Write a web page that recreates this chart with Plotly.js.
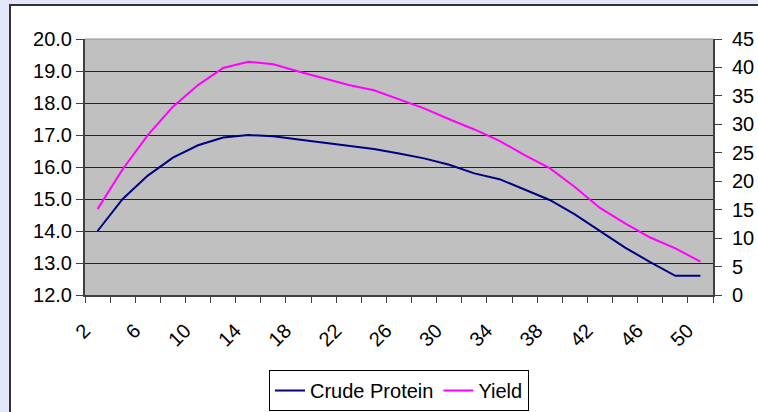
<!DOCTYPE html>
<html><head><meta charset="utf-8">
<script src="https://cdn.plot.ly/plotly-3.0.1.min.js"></script>
<style>
html,body{margin:0;padding:0;background:#E6E6FA;width:758px;height:412px;overflow:hidden;}
#frame{position:absolute;left:9px;top:4px;width:747px;height:406px;border-left:2px solid #333;border-top:2px solid #333;background:#fff;}
#chart{width:747px;height:406px;}
</style></head><body>
<div id="frame"><div id="chart"></div></div>
<script>
const categories = [2,4,6,8,10,12,14,16,18,20,22,24,26,28,30,32,34,36,38,40,42,44,46,48,50];
const crudeProtein = [14.0,15.0,15.73,16.29,16.68,16.92,17.0,16.96,16.86,16.76,16.66,16.56,16.42,16.27,16.07,15.8,15.62,15.3,14.97,14.52,14.0,13.48,13.03,12.6,12.6];
const yieldVals = [15.1,22.1,28.1,33.1,36.9,39.9,41.0,40.55,39.3,38.1,36.9,36.0,34.4,32.8,30.9,29.1,27.1,24.6,22.3,19.0,15.3,12.6,10.1,8.2,5.86];
const seriesNames = ["Crude Protein","Yield"];

const labelVals = categories.filter((c,i)=>i%2===0);
const boundaries = categories.map(c=>c-1).concat([categories[categories.length-1]+1]);
const font = {family:"Liberation Sans, Arial, sans-serif", size:20, color:"#000"};

const traces = [
  {x:categories, y:crudeProtein, name:seriesNames[0], type:"scatter", mode:"lines",
   line:{color:"#000080", width:2}, yaxis:"y"},
  {x:categories, y:yieldVals, name:seriesNames[1], type:"scatter", mode:"lines",
   line:{color:"#FF00FF", width:2}, yaxis:"y2"}
];

const layout = {
  width:747, height:406,
  margin:{l:74, r:45, t:33, b:117},
  paper_bgcolor:"#FFFFFF", plot_bgcolor:"#C0C0C0",
  font:font,
  showlegend:true,
  legend:{orientation:"h", xref:"paper", x:0.5, xanchor:"center", yref:"container", y:0.1034, yanchor:"top",
          bgcolor:"#FFFFFF", bordercolor:"#000", borderwidth:1, font:font},
  xaxis:{range:[boundaries[0], boundaries[boundaries.length-1]], tickvals:labelVals, automargin:false,
         ticktext:labelVals.map(String), ticks:"", tickangle:-45, ticklabelshift:-13, ticklabelstandoff:14,
         showgrid:false, zeroline:false, showline:true, linecolor:"#404040", linewidth:2,
         minor:{tickvals:boundaries, ticks:"outside", ticklen:6, tickcolor:"#404040", tickwidth:1, showgrid:false},
         tickfont:font},
  yaxis:{range:[12,20], dtick:1, tick0:12, tickformat:".1f", ticks:"outside", ticklen:7, automargin:false,
         tickcolor:"#404040", showline:true, linecolor:"#404040", linewidth:2,
         showgrid:true, gridcolor:"#222", gridwidth:1, zeroline:false, tickfont:font},
  yaxis2:{range:[0,45], dtick:5, tick0:0, overlaying:"y", side:"right", ticks:"outside", ticklen:7, automargin:false,
          tickcolor:"#404040", showline:true, linecolor:"#404040", linewidth:2, ticklabelstandoff:6,
          showgrid:false, zeroline:false, tickfont:font},
  yaxis3:{range:[0,45], dtick:5, tick0:0, overlaying:"y", side:"right", ticks:"inside", ticklen:7, automargin:false,
          tickcolor:"#404040", showline:false, showgrid:false, zeroline:false, showticklabels:false},
  shapes:[{type:"line", xref:"paper", yref:"paper", x0:0, x1:1, y0:1, y1:1,
           line:{color:"#909090", width:1}}]
};

Plotly.newPlot("chart", traces, layout, {displayModeBar:false, staticPlot:true});
</script>
</body></html>
